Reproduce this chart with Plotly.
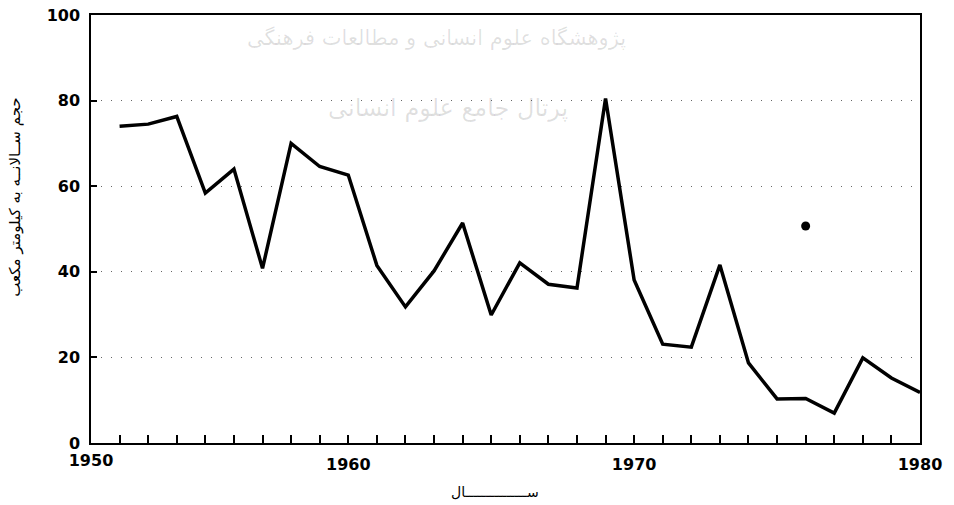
import plotly.graph_objects as go

# ---- data ----
years = list(range(1952, 1981))
volume = [74.0, 74.5, 76.3, 58.4, 64.0, 40.8, 70.0, 64.6, 62.6, 41.5,
          31.8, 40.2, 51.4, 29.9, 42.1, 37.1, 36.2, 80.5, 38.1, 23.1,
          22.4, 41.6, 18.7, 10.3, 10.4, 7.0, 19.9, 15.2, 11.8]
outlier_year = [1976]
outlier_value = [50.7]

y_ticks = [0, 20, 40, 60, 80, 100]
x_ticks = [1960, 1970, 1980]
x_left_tick = [1950]

y_title = "حجم ســالانــه به کیلومتر مکعب"
x_title = "ســـــــــــــــال"
watermark1 = "پژوهشگاه علوم انسانی و مطالعات فرهنگی"
watermark2 = "پرتال جامع علوم انسانی"

tick_font = dict(family="DejaVu Sans", size=16, color="black", weight="bold")

fig = go.Figure()
fig.add_trace(go.Scatter(x=years, y=volume, mode="lines",
                         line=dict(color="black", width=3.5),
                         showlegend=False, hoverinfo="skip"))
fig.add_trace(go.Scatter(x=outlier_year, y=outlier_value, mode="markers",
                         marker=dict(color="black", size=9),
                         showlegend=False, hoverinfo="skip"))
fig.add_trace(go.Scatter(x=x_left_tick, y=[None], xaxis="x2", mode="markers",
                         showlegend=False, hoverinfo="skip"))

fig.update_layout(
    width=954, height=505,
    margin=dict(l=91, r=34, t=15, b=62),
    paper_bgcolor="white", plot_bgcolor="white",
    showlegend=False,
    xaxis=dict(range=[1951, 1980], tickvals=x_ticks, ticks="inside",
               ticklen=8, tickwidth=1.5, tickcolor="black", automargin=False,
               showline=True, linecolor="black", linewidth=1.5, mirror=True,
               showgrid=False, zeroline=False, tickfont=tick_font,
               ticklabelstandoff=6,
               minor=dict(tick0=1951, dtick=1, ticks="inside", ticklen=8,
                          tickwidth=1.5, tickcolor="black", showgrid=False)),
    xaxis2=dict(range=[1950, 1980], overlaying="x", anchor="y", side="bottom",
                tickvals=x_left_tick, ticks="", showline=False, showgrid=False,
                automargin=False, zeroline=False, tickfont=tick_font,
                ticklabelstandoff=6),
    yaxis=dict(range=[0, 100], tickvals=y_ticks, ticks="inside", ticklen=6,
               tickwidth=1.5, tickcolor="black", automargin=False,
               showline=True, linecolor="black", linewidth=1.5, mirror=True,
               showgrid=True, gridcolor="#666", gridwidth=1,
               griddash="1px,9px", zeroline=False, tickfont=tick_font,
               ticklabelstandoff=6, ticklabeloverflow="allow"),
    annotations=[
        dict(text=y_title, xref="paper", yref="paper", x=-0.092, y=0.575,
             textangle=-90, showarrow=False, xanchor="center", yanchor="middle",
             font=dict(family="DejaVu Sans", size=15, color="black")),
        dict(text=x_title, xref="paper", yref="paper", x=0.487, y=-0.114,
             showarrow=False, xanchor="center", yanchor="middle",
             font=dict(family="DejaVu Sans", size=14, color="black")),
        dict(text=watermark1, xref="paper", yref="paper", x=0.417, y=0.946,
             showarrow=False, xanchor="center", yanchor="middle",
             font=dict(family="DejaVu Sans", size=21, color="rgba(0,0,0,0.12)")),
        dict(text=watermark2, xref="paper", yref="paper", x=0.431, y=0.783,
             showarrow=False, xanchor="center", yanchor="middle",
             font=dict(family="DejaVu Sans", size=24, color="rgba(0,0,0,0.12)")),
    ],
)

# remove the page's default 8px body margin so the 954x505 figure fills the window
fig.write_html("out.html", config={"displayModeBar": False},
               post_script="document.body.style.margin='0';")
